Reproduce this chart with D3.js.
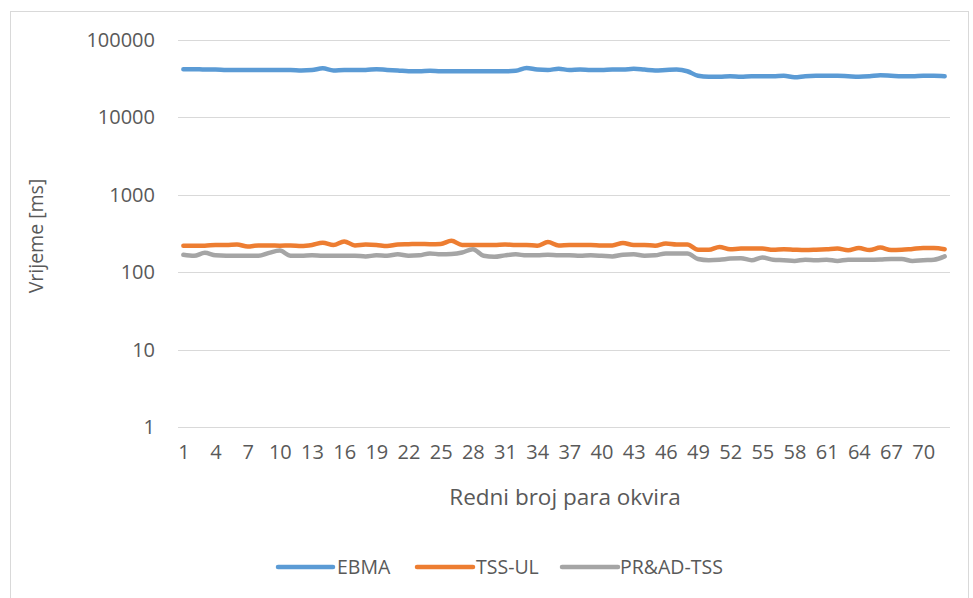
<!DOCTYPE html>
<html>
<head>
<meta charset="utf-8">
<script src="https://cdn.jsdelivr.net/npm/d3@7"></script>
<style>
  html, body { margin: 0; padding: 0; background: #fff; }
  svg { display: block; }
  text { font-family: "Open Sans", "Noto Sans", sans-serif; fill: #595959; }
</style>
</head>
<body>
<svg id="chart" width="973" height="598"></svg>
<script>
// Frame pair index (1..72)
const frames = d3.range(1, 73);

// Processing time per frame pair [ms]
const ebma = [
  42000, 42000, 41500, 41500, 41000, 41000, 41000, 41000, 41000, 41000,
  41000, 40500, 41000, 43000, 40500, 41000, 41000, 41000, 42000, 41000,
  40500, 39500, 39500, 40000, 39500, 39500, 39500, 39500, 39500, 39500,
  39500, 40000, 43500, 41500, 41000, 42500, 41000, 41500, 41000, 41000,
  41500, 41500, 42500, 41500, 40500, 41000, 41500, 39500, 34500, 33500,
  33500, 34000, 33500, 34000, 34000, 34000, 34500, 33000, 34000, 34500,
  34500, 34500, 34000, 33500, 34000, 35000, 34500, 34000, 34000, 34500,
  34500, 34000
];
const tssUl = [
  220, 220, 220, 225, 225, 228, 215, 222, 222, 220,
  222, 218, 225, 240, 225, 250, 222, 228, 225, 218,
  228, 230, 232, 230, 232, 255, 225, 225, 225, 225,
  228, 225, 225, 220, 245, 222, 225, 225, 225, 222,
  222, 238, 225, 225, 220, 235, 228, 228, 195, 195,
  212, 198, 202, 202, 202, 195, 198, 195, 193, 195,
  198, 202, 192, 205, 193, 208, 193, 195, 200, 205,
  205, 198
];
const prAdTss = [
  168, 163, 178, 165, 163, 163, 163, 163, 178, 190,
  163, 163, 165, 163, 163, 163, 163, 160, 165, 163,
  170, 163, 165, 175, 170, 172, 180, 198, 163, 158,
  165, 170, 165, 165, 168, 165, 165, 163, 165, 163,
  160, 168, 170, 163, 165, 175, 175, 175, 148, 143,
  145, 150, 152, 143, 155, 145, 143, 140, 145, 143,
  145, 140, 145, 145, 145, 146, 148, 148, 140, 143,
  145, 160
];

const seriesNames = ["EBMA", "TSS-UL", "PR&AD-TSS"];
const seriesColors = ["#5B9BD5", "#ED7D31", "#A5A5A5"];
const seriesValues = [ebma, tssUl, prAdTss];

const yTicks = [1, 10, 100, 1000, 10000, 100000];
const xTickLabels = frames.filter(d => (d - 1) % 3 === 0);

const svg = d3.select("#chart");

// Outer chart frame
svg.append("rect")
  .attr("x", 10.5).attr("y", 11.5)
  .attr("width", 958).attr("height", 620)
  .attr("fill", "none").attr("stroke", "#D9D9D9").attr("stroke-width", 1);

const plot = { left: 178, right: 950, top: 40, bottom: 427 };

const x = d3.scalePoint()
  .domain(frames)
  .range([plot.left, plot.right])
  .padding(0.5);

const y = d3.scaleLog()
  .domain([1, 100000])
  .range([plot.bottom, plot.top]);

// Horizontal gridlines
svg.append("g")
  .selectAll("line")
  .data(yTicks)
  .join("line")
  .attr("x1", plot.left).attr("x2", plot.right)
  .attr("y1", d => Math.round(y(d)) + 0.5)
  .attr("y2", d => Math.round(y(d)) + 0.5)
  .attr("stroke", "#D9D9D9").attr("stroke-width", 1);

// Y axis labels
const yAxis = d3.axisLeft(y)
  .tickValues(yTicks)
  .tickFormat(d3.format("d"))
  .tickSize(0)
  .tickPadding(0);
svg.append("g")
  .attr("transform", `translate(${155},0)`)
  .call(yAxis)
  .call(g => g.select(".domain").remove())
  .call(g => g.selectAll("text")
    .attr("fill", "#595959")
    .style("font-family", "'Open Sans', sans-serif")
    .style("font-size", "20px"));

// X axis labels
const xAxis = d3.axisBottom(x)
  .tickValues(xTickLabels)
  .tickSize(0)
  .tickPadding(0);
svg.append("g")
  .attr("transform", `translate(0,${445})`)
  .call(xAxis)
  .call(g => g.select(".domain").remove())
  .call(g => g.selectAll("text")
    .attr("fill", "#595959")
    .style("font-family", "'Open Sans', sans-serif")
    .style("font-size", "20px"));

// Series lines
const line = d3.line()
  .x((d, i) => x(frames[i]))
  .y(d => y(d))
  .curve(d3.curveMonotoneX);

svg.append("g")
  .selectAll("path")
  .data(seriesValues)
  .join("path")
  .attr("d", d => line(d))
  .attr("fill", "none")
  .attr("stroke", (d, i) => seriesColors[i])
  .attr("stroke-width", 4.5)
  .attr("stroke-linecap", "round")
  .attr("stroke-linejoin", "round");

// Axis titles
svg.append("text")
  .attr("x", 565).attr("y", 505)
  .attr("text-anchor", "middle")
  .style("font-size", "22.5px")
  .text("Redni broj para okvira");

svg.append("text")
  .attr("transform", `translate(43,236) rotate(-90)`)
  .attr("text-anchor", "middle")
  .style("font-size", "19.5px")
  .text("Vrijeme [ms]");

// Legend
const legendItems = [
  { x1: 278, x2: 333, tx: 337 },
  { x1: 417, x2: 473, tx: 476 },
  { x1: 562, x2: 618, tx: 620 }
];
const legend = svg.append("g");
legendItems.forEach((it, i) => {
  legend.append("line")
    .attr("x1", it.x1).attr("x2", it.x2)
    .attr("y1", 567).attr("y2", 567)
    .attr("stroke", seriesColors[i])
    .attr("stroke-width", 4.5)
    .attr("stroke-linecap", "round");
  legend.append("text")
    .attr("x", it.tx).attr("y", 567)
    .attr("dy", "0.35em")
    .style("font-size", "19.5px")
    .text(seriesNames[i]);
});
</script>
</body>
</html>
